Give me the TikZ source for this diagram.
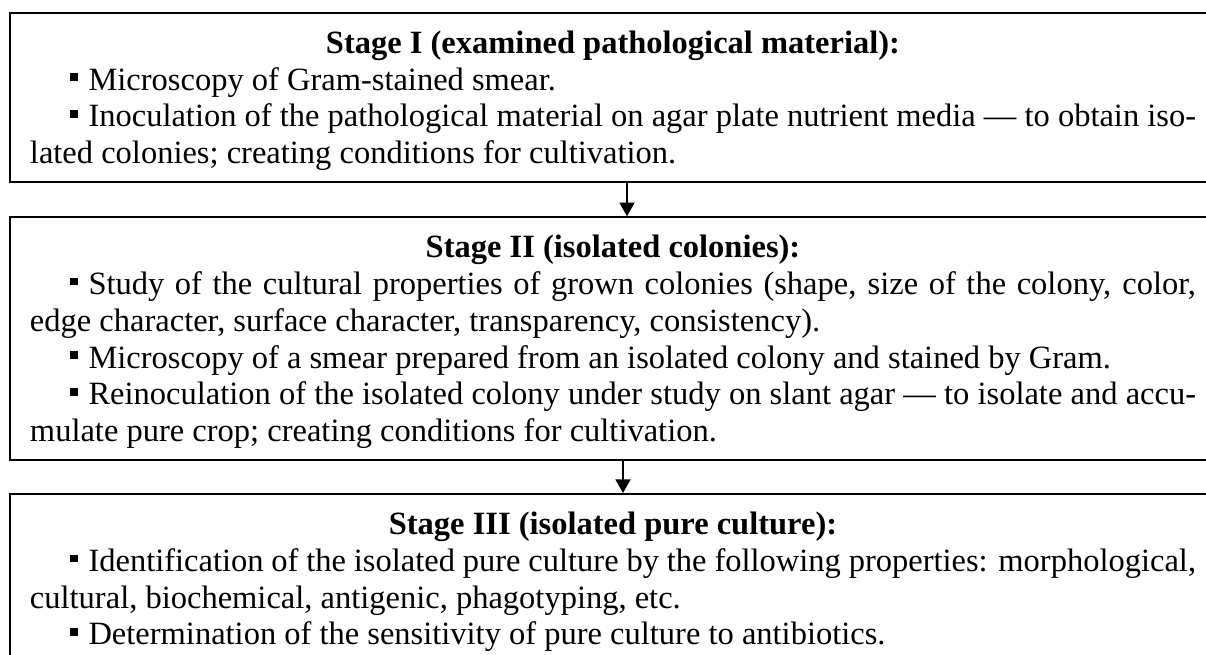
\documentclass[tikz,border=0pt]{standalone}
\usepackage{fontspec}
\setmainfont{Liberation Serif}
\usetikzlibrary{arrows.meta, positioning}
\newcommand{\sqbul}{\par\hspace*{16pt}\raisebox{3.7pt}{\rule{3pt}{3pt}}\hspace*{4.4pt}\ignorespaces}
\newcommand{\stagehead}[1]{\centerline{\rule{0pt}{11.6pt}\bfseries #1}}
\hyphenpenalty=10000

\begin{document}
\begin{tikzpicture}[
        >={Triangle[width=6pt, length=5.5pt]},
        stagebox/.style={draw, line width=0.8pt, align=justify, text width=466.4pt, inner xsep=8pt, inner ysep=4.6pt, font=\fontsize{13pt}{14.7pt}\selectfont},
        flow/.style={->, line width=0.8pt}
    ]
        \useasboundingbox (0,0) rectangle (482.4pt,-262pt);

        \node[stagebox, anchor=north west] (stage1) at (3.6pt,-4.8pt) {\stagehead{Stage I (examined pathological material):}%
            \sqbul Microscopy of Gram-stained smear.
            \sqbul Inoculation of the pathological material on agar plate nutrient media --- to obtain iso-\linebreak lated colonies; creating conditions for cultivation.};
        \node[stagebox, below=13.2pt of stage1] (stage2) {\stagehead{Stage II (isolated colonies):}%
            \sqbul Study of the cultural properties of grown colonies (shape, size of the colony, color,\linebreak edge character, surface character, transparency, consistency).
            \sqbul Microscopy of a smear prepared from an isolated colony and stained by Gram.
            \sqbul Reinoculation of the isolated colony under study on slant agar --- to isolate and accu-\linebreak mulate pure crop; creating conditions for cultivation.};
        \node[stagebox, below=12.8pt of stage2] (stage3) {\stagehead{Stage III (isolated pure culture):}%
            \sqbul Identification of the isolated pure culture by the following properties: morphological,\linebreak cultural, biochemical, antigenic, phagotyping, etc.
            \sqbul Determination of the sensitivity of pure culture to antibiotics.};

        \draw[flow] ([xshift=5.6pt]stage1.south) -- ([xshift=5.6pt]stage2.north);
        \draw[flow] ([xshift=4pt]stage2.south) -- ([xshift=4pt]stage3.north);
    \end{tikzpicture}
\end{document}
